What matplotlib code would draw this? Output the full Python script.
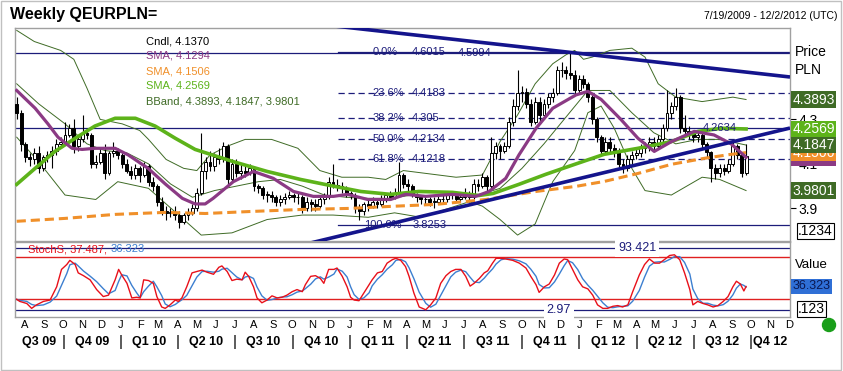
import numpy as np
import pandas as pd
import matplotlib
matplotlib.use("Agg")
import matplotlib.pyplot as plt
import matplotlib.dates as mdates
from matplotlib import transforms
from matplotlib.patches import Circle, Rectangle

plt.rcParams['font.family'] = ['Liberation Sans', 'DejaVu Sans']

# ---------------- data ----------------
start_date = "2009-07-19"
end_date = "2012-12-02"
first_open = 4.37
closes = [4.33, 4.19, 4.13, 4.12, 4.15, 4.08, 4.13, 4.14, 4.16, 4.19,
          4.20, 4.23, 4.26, 4.18, 4.21, 4.24, 4.23, 4.10, 4.11, 4.15,
          4.06, 4.15, 4.16, 4.14, 4.10, 4.07, 4.05, 4.08, 4.05, 4.09,
          4.02, 4.00, 3.93, 3.89, 3.88, 3.88, 3.87, 3.84, 3.87, 3.88,
          3.90, 3.97, 4.07, 4.11, 4.09, 4.13, 4.12, 4.18, 4.03, 4.10,
          4.06, 4.07, 4.06, 4.08, 4.00, 3.99, 3.96, 3.96, 3.95, 3.93,
          3.94, 3.95, 3.96, 3.95, 3.95, 3.90, 3.93, 3.92, 3.91, 3.94,
          3.95, 4.02, 4.00, 4.00, 3.99, 3.97, 3.96, 3.90, 3.89, 3.92,
          3.91, 3.93, 3.92, 3.94, 3.96, 3.95, 3.97, 4.05, 4.01, 4.00,
          3.96, 3.95, 3.94, 3.94, 3.93, 3.93, 3.94, 3.94, 3.96, 3.96,
          3.94, 3.95, 3.97, 3.95, 4.01, 4.00, 4.04, 4.00, 4.15, 4.18,
          4.16, 4.18, 4.29, 4.36, 4.42, 4.425, 4.37, 4.29, 4.38, 4.32,
          4.37, 4.40, 4.42, 4.52, 4.52, 4.51, 4.50, 4.43, 4.48, 4.46,
          4.40, 4.30, 4.22, 4.16, 4.20, 4.17, 4.16, 4.10, 4.08, 4.12,
          4.14, 4.15, 4.17, 4.18, 4.20, 4.18, 4.21, 4.26, 4.33, 4.36,
          4.40, 4.26, 4.25, 4.24, 4.22, 4.23, 4.19, 4.155, 4.08, 4.06,
          4.08, 4.07, 4.10, 4.18, 4.14, 4.06, 4.137]
highs = [4.40, 4.34, 4.20, 4.15, 4.17, 4.18, 4.14, 4.16, 4.18, 4.21,
         4.22, 4.29, 4.28, 4.30, 4.23, 4.32, 4.26, 4.24, 4.14, 4.17,
         4.19, 4.16, 4.20, 4.17, 4.15, 4.12, 4.09, 4.10, 4.09, 4.11,
         4.10, 4.04, 4.01, 3.95, 3.91, 3.90, 3.91, 3.89, 3.88, 3.90,
         3.92, 3.99, 4.24, 4.13, 4.16, 4.15, 4.17, 4.20, 4.19, 4.12,
         4.12, 4.10, 4.09, 4.10, 4.09, 4.01, 4.00, 3.98, 3.98, 3.96,
         3.96, 3.97, 3.98, 3.97, 3.97, 3.96, 3.95, 3.94, 3.94, 3.95,
         3.97, 4.04, 4.10, 4.03, 4.02, 4.00, 3.98, 3.97, 3.92, 3.93,
         3.94, 3.95, 3.94, 3.96, 3.97, 3.98, 3.99, 4.11, 4.06, 4.03,
         4.01, 3.97, 3.96, 3.96, 3.95, 3.95, 3.96, 3.96, 3.97, 3.98,
         3.97, 3.97, 3.99, 3.98, 4.03, 4.03, 4.06, 4.05, 4.22, 4.20,
         4.19, 4.20, 4.31, 4.39, 4.52, 4.45, 4.44, 4.39, 4.40, 4.40,
         4.39, 4.42, 4.44, 4.54, 4.56, 4.54, 4.60, 4.52, 4.50, 4.50,
         4.47, 4.41, 4.31, 4.23, 4.22, 4.22, 4.19, 4.17, 4.12, 4.14,
         4.16, 4.17, 4.19, 4.20, 4.22, 4.22, 4.23, 4.28, 4.43, 4.38,
         4.44, 4.41, 4.32, 4.27, 4.25, 4.25, 4.25, 4.20, 4.16, 4.10,
         4.10, 4.10, 4.12, 4.20, 4.19, 4.15, 4.19]
lows = [4.30, 4.16, 4.11, 4.09, 4.10, 4.06, 4.07, 4.11, 4.08, 4.14,
        4.17, 4.19, 4.22, 4.15, 4.16, 4.20, 4.21, 4.08, 4.08, 4.10,
        4.03, 4.05, 4.13, 4.12, 4.08, 4.06, 4.03, 4.03, 4.02, 4.04,
        4.00, 3.98, 3.91, 3.87, 3.85, 3.86, 3.85, 3.81, 3.83, 3.85,
        3.87, 3.89, 3.96, 4.03, 4.07, 4.07, 4.10, 4.11, 4.01, 4.02,
        4.04, 4.03, 4.04, 4.05, 3.98, 3.97, 3.94, 3.93, 3.93, 3.91,
        3.91, 3.92, 3.94, 3.93, 3.92, 3.88, 3.89, 3.89, 3.89, 3.90,
        3.92, 3.94, 3.99, 3.98, 3.97, 3.95, 3.94, 3.88, 3.85, 3.87,
        3.89, 3.90, 3.90, 3.91, 3.93, 3.94, 3.94, 3.96, 3.99, 3.98,
        3.95, 3.93, 3.92, 3.92, 3.91, 3.90, 3.92, 3.92, 3.93, 3.94,
        3.93, 3.93, 3.94, 3.93, 3.94, 3.98, 3.99, 3.98, 3.99, 4.12,
        4.12, 4.15, 4.17, 4.27, 4.34, 4.38, 4.35, 4.27, 4.28, 4.28,
        4.30, 4.35, 4.38, 4.41, 4.49, 4.48, 4.48, 4.41, 4.42, 4.44,
        4.38, 4.28, 4.20, 4.14, 4.15, 4.15, 4.13, 4.08, 4.06, 4.07,
        4.10, 4.12, 4.13, 4.15, 4.16, 4.16, 4.17, 4.19, 4.25, 4.30,
        4.34, 4.24, 4.22, 4.21, 4.20, 4.20, 4.17, 4.13, 4.02, 4.03,
        4.04, 4.05, 4.06, 4.09, 4.12, 4.04, 4.05]

# indicator lines (week index, value)
sma_purple_w = [0, 4.2, 7.1, 9.4, 12.6, 14.9, 17.8, 22.4, 25.4, 29.9, 33.8, 37.7, 40.6, 42.9,
                44.7, 49.3, 53.9, 58.4, 63.0, 67.5, 72.1, 75.3, 79.9, 85.1, 88.5, 93.1, 99.2,
                104.5, 107.5, 111.3, 114.3, 118.2, 122.0, 127.3, 130.0, 133.0, 137.5, 141.4,
                145.1, 149.0, 154.2, 158.7, 162.6, 166]
sma_purple_v = [4.43, 4.35, 4.28, 4.22, 4.17, 4.165, 4.17, 4.17, 4.14, 4.08, 4.01, 3.945, 3.92, 3.92,
                3.945, 4.02, 4.066, 4.035, 3.976, 3.954, 3.954, 3.963, 3.94, 3.94, 3.963, 3.954, 3.963,
                3.954, 3.976, 4.035, 4.14, 4.26, 4.35, 4.41, 4.426, 4.39, 4.30, 4.215,
                4.156, 4.20, 4.246, 4.23, 4.19, 4.1294]
sma_green_w = [0, 4.2, 8.7, 13.3, 17.8, 22.4, 27.0, 31.5, 36.1, 40.6, 49.3, 57.0, 64.6, 72.1,
               78.3, 85.1, 91.5, 99.2, 105.2, 108.4, 114.3, 120.4, 127.3, 133.7, 141.4, 149.0,
               155.1, 160.4, 166]
sma_green_v = [4.008, 4.08, 4.156, 4.215, 4.27, 4.305, 4.305, 4.27, 4.215, 4.165, 4.11, 4.066, 4.03, 4.0,
               3.976, 3.963, 3.976, 3.972, 3.958, 3.967, 4.008, 4.053, 4.10, 4.143, 4.17, 4.20,
               4.246, 4.26, 4.2569]
sma_orange_w = [0, 11, 22.4, 33.8, 42.9, 53.2, 64.6, 75.9, 85.1, 95.4, 106.8, 118.2, 127.3, 133.7,
                141.4, 149.0, 156.5, 162.6, 166]
sma_orange_v = [3.842, 3.855, 3.873, 3.882, 3.877, 3.886, 3.895, 3.90, 3.909, 3.918, 3.94, 3.976,
                3.999, 4.021, 4.057, 4.098, 4.125, 4.143, 4.1506]
bb_up_w = [0, 4, 10, 13, 16, 19, 24, 28, 30, 34, 38, 41, 44, 48, 52, 58, 64, 69, 74, 80, 84, 88, 92,
           96, 100, 106, 110, 114, 118, 122, 125, 127, 129, 131, 135, 140, 143, 146, 150, 156, 163, 166]
bb_up_v = [4.70, 4.65, 4.61, 4.57, 4.44, 4.30, 4.28, 4.25, 4.21, 4.12, 4.08, 4.07, 4.14, 4.18, 4.21,
           4.21, 4.17, 4.07, 4.04, 4.04, 4.03, 4.07, 4.06, 4.05, 4.04, 4.05, 4.20, 4.32, 4.46, 4.55,
           4.59, 4.61, 4.57, 4.58, 4.61, 4.62, 4.58, 4.46, 4.40, 4.38, 4.40, 4.3893]
bb_mid_w = [0, 5, 11, 16, 20, 25, 30, 35, 40, 45, 50, 55, 60, 65, 70, 75, 80, 85, 90, 95, 100, 105,
            110, 115, 120, 125, 130, 135, 140, 145, 150, 155, 160, 166]
bb_mid_v = [4.46, 4.37, 4.28, 4.19, 4.16, 4.15, 4.10, 4.01, 3.95, 3.98, 4.00, 4.02, 4.03, 4.00, 3.96,
            3.95, 3.945, 3.945, 3.96, 3.955, 3.96, 3.96, 3.99, 4.08, 4.19, 4.31, 4.43, 4.43, 4.33,
            4.24, 4.19, 4.21, 4.21, 4.1847]
bb_low_w = [0, 5, 11, 18, 23, 30, 38, 42, 49, 57, 65, 72, 80, 86, 92, 103, 106, 110, 114, 118, 122,
            127, 130, 133, 136, 140, 143, 149, 156, 160, 166]
bb_low_v = [4.22, 4.11, 3.96, 3.94, 4.02, 3.99, 3.85, 3.78, 3.79, 3.85, 3.87, 3.87, 3.86, 3.88, 3.86,
            3.93, 3.91, 3.85, 3.78, 3.83, 4.02, 4.16, 4.33, 4.36, 4.26, 4.08, 3.98, 3.96, 4.04, 4.03,
            3.9801]

# trendlines (week, price)
trend_upper = [(60, 4.747), (176, 4.4905)]
trend_lower = [(60, 3.712), (176, 4.261)]
hlines_full = [4.5994, 4.2634]
fib_pct = ["0.0%", "23.6%", "38.2%", "50.0%", "61.8%", "100.0%"]
fib_val = [4.6015, 4.4183, 4.305, 4.2134, 4.1218, 3.8253]
fib_start_week = 73.1

# stochastics %K (week, value)
stoch_w = [0, 0.7, 2.3, 3.4, 4.5, 6.1, 7.6, 9.1, 10.2, 11.4, 12.1, 13.3, 14.0, 15.2, 16.7, 18.2,
           19.7, 20.9, 22.4, 23.2, 23.9, 25.1, 26.2, 27.3, 28.1, 28.9, 30.0, 31.1, 31.9, 33.0,
           33.8, 34.9, 36.1, 36.8, 37.6, 38.7, 39.9, 41.0, 42.2, 43.3, 44.8, 46.0, 46.7, 47.9,
           49.0, 50.1, 51.3, 52.0, 52.8, 53.9, 54.7, 55.8, 57.0, 58.1, 59.3, 60.4, 61.5, 62.7,
           63.8, 65.0, 65.7, 66.9, 68.0, 69.1, 69.9, 71.0, 72.2, 72.9, 74.1, 75.2, 76.0, 76.8,
           77.9, 79.0, 80.2, 80.9, 82.1, 83.2, 84.3, 85.5, 86.3, 87.4, 88.5, 89.3, 90.4, 91.6,
           93.1, 94.2, 95.4, 96.5, 97.7, 98.8, 99.9, 101.1, 102.2, 103.2, 104.1, 105.3, 106.4,
           107.2, 108.3, 109.1, 110.2, 111.3, 112.9, 114.4, 115.9, 117.0, 118.2, 118.9, 120.1,
           121.2, 122.4, 123.5, 124.6, 125.4, 126.5, 127.7, 128.8, 130.0, 131.1, 132.2, 133.4,
           134.5, 135.7, 136.8, 137.9, 139.1, 140.2, 141.7, 142.9, 144.0, 145.2, 146.3, 147.4,
           148.6, 149.7, 150.9, 152.0, 153.2, 153.9, 155.0, 156.2, 157.3, 158.5, 159.6, 160.8,
           161.9, 163.0, 163.8, 164.7, 165.5, 166]
stoch_k = [19, 16, 13, 6, 11, 16, 18, 37, 62, 69, 75, 69, 57, 53, 47, 33, 23, 25, 47, 62, 54, 42,
           21, 22, 21, 47, 46, 42, 23, 8, 6, 11, 18, 16, 21, 37, 57, 59, 61, 58, 55, 65, 67, 59, 46,
           48, 47, 58, 52, 37, 21, 14, 18, 24, 21, 22, 25, 30, 33, 30, 40, 52, 53, 49, 42, 62, 62,
           64, 52, 37, 22, 18, 17, 28, 40, 47, 57, 59, 71, 76, 78, 75, 66, 52, 28, 8,
           4, 11, 21, 42, 53, 59, 62, 62, 52, 38, 42, 49, 57, 60, 71, 78, 78, 77, 75, 71, 64, 52,
           40, 29, 37, 41, 54, 71, 77, 76, 62, 47, 37, 34, 25, 11, 6, 6, 9, 10, 8, 11, 30, 54, 69,
           77, 71, 71, 76, 82, 83, 76, 57, 33, 11, 16, 13, 11, 8, 10, 16, 23, 37, 45, 41, 31, 37.5]
stoch_hi, stoch_lo = 93.421, 2.97

legend_lines = [("Cndl, 4.1370", "#000000"), ("SMA, 4.1294", "#8b3a84"),
                ("SMA, 4.1506", "#f0902a"), ("SMA, 4.2569", "#5db31a"),
                ("BBand, 4.3893, 4.1847, 3.9801", "#3f6b26")]
value_boxes = [(4.1294, "#8b3a84"), (4.1506, "#f0902a"), (4.1847, "#3f6b26"),
               (4.2569, "#5db31a"), (4.3893, "#3f6b26"), (3.9801, "#3f6b26")]
price_ticks = [3.9, 4.0, 4.1, 4.2, 4.3]
price_tick_labels = ["3.9", "", "4.1", "", "4.3"]

# ---------------- figure ----------------
W, H = 843, 371
fig = plt.figure(figsize=(W / 100, H / 100), dpi=100)
fig.patch.set_facecolor("white")

def fr(x0, y0, x1, y1):
    return [x0 / W, 1 - y1 / H, (x1 - x0) / W, (y1 - y0) / H]

ax = fig.add_axes(fr(14.5, 28, 790, 241))
axs = fig.add_axes(fr(14.5, 241.5, 790, 317))
ov = fig.add_axes([0, 0, 1, 1], zorder=20)
ov.set_xlim(0, W); ov.set_ylim(H, 0); ov.axis("off"); ov.patch.set_alpha(0)

x0 = mdates.date2num(pd.Timestamp(start_date))
def wk(w):
    return x0 + 7.0 * np.asarray(w, dtype=float)
xmin, xmax = wk(-0.5), mdates.date2num(pd.Timestamp(end_date))

for a in (ax, axs):
    a.set_xlim(xmin, xmax)
    a.set_xticks([])
    for s in a.spines.values():
        s.set_color("#a0a0a0"); s.set_linewidth(1)
ax.set_ylim(3.7534, 4.7107)
axs.set_ylim(-6.4, 102.1)

navy = "#1c1c7a"
fibfs = 8
# horizontal lines
for v in hlines_full:
    ax.axhline(v, color=navy, lw=0.9, zorder=1.5)
for i, (p, v) in enumerate(zip(fib_pct, fib_val)):
    ls = "-" if i in (0, len(fib_val) - 1) else (0, (5, 3))
    ax.plot([wk(fib_start_week), xmax], [v, v], color=navy, lw=0.9, ls=ls, zorder=1.5)
    ax.text(wk(79.0 if p == "100.0%" else 81.0), v, p, color=navy, fontsize=fibfs,
            va="center", ha="left", zorder=7)
    ax.text(wk(90.0), v, f"{v:.4f}".rstrip("0") if p == "38.2%" else f"{v:.4f}",
            color=navy, fontsize=fibfs, va="center", ha="left", zorder=7)
ax.text(wk(100.4), hlines_full[0], f"{hlines_full[0]:.4f}", color=navy, fontsize=fibfs,
        va="center", ha="left", zorder=7)
ax.text(wk(156.2), hlines_full[1], f"{hlines_full[1]:.4f}", color=navy, fontsize=fibfs,
        va="center", ha="left", zorder=7)

# bollinger bands
bbc = "#3f6b26"
for ww, vv in ((bb_up_w, bb_up_v), (bb_mid_w, bb_mid_v), (bb_low_w, bb_low_v)):
    ax.plot(wk(ww), vv, color=bbc, lw=0.7, zorder=2)

# candles
c = np.array(closes); o = np.array([first_open] + closes[:-1])
hi = np.array(highs); lo = np.array(lows)
xs = wk(np.arange(len(c)))
ax.vlines(xs, lo, hi, color="black", lw=0.8, zorder=3)
up = c >= o
ax.bar(xs, np.maximum(np.abs(c - o), 0.003), bottom=np.minimum(o, c), width=4.6,
       color=np.where(up, "white", "black"), edgecolor="black", linewidth=0.7, zorder=4)

# moving averages
ax.plot(wk(sma_orange_w), sma_orange_v, color="#f0902a", lw=2.2, dashes=(3, 1.6), zorder=5)
ax.plot(wk(sma_green_w), sma_green_v, color="#5db31a", lw=2.6, zorder=5)
ax.plot(wk(sma_purple_w), sma_purple_v, color="#8b3a84", lw=2.3, zorder=5)

# trendlines
for tl in (trend_upper, trend_lower):
    ax.plot(wk([p[0] for p in tl]), [p[1] for p in tl], color="#14148c", lw=2.6,
            solid_capstyle="butt", zorder=6)

# right axis of price panel
ax.yaxis.tick_right()
ax.set_yticks(price_ticks)
ax.set_yticklabels(price_tick_labels)
ax.tick_params(axis="y", direction="out", length=4, width=0.8, pad=2, labelsize=10,
               colors="black")
bl = transforms.blended_transform_factory(ov.transData, ax.transData)
for k, (v, col) in enumerate(value_boxes):
    ax.text(792.5, v, f"{v:.4f}", transform=bl, ha="left", va="center", fontsize=10,
            color="white", zorder=10 + k, clip_on=False,
            bbox=dict(boxstyle="square,pad=0.1", fc=col, ec="none"))

# stochastic panel
axs.axhline(80, color="#e02020", lw=1, zorder=1)
axs.axhline(20, color="#e02020", lw=1, zorder=1)
axs.axhline(stoch_hi, color=navy, lw=0.9, zorder=1)
axs.axhline(stoch_lo, color=navy, lw=0.9, zorder=1)
sk = pd.Series(stoch_k, dtype=float)
sd = sk.rolling(3, min_periods=1).mean()
axs.plot(wk(stoch_w), sd, color="#3c7fd0", lw=1, zorder=3)
axs.plot(wk(stoch_w), sk, color="#e8101a", lw=1, zorder=4)
axs.set_yticks([])
axs.text(wk(141.2), stoch_hi, f"{stoch_hi}", color=navy, fontsize=9, ha="center",
         va="center", zorder=6, bbox=dict(boxstyle="square,pad=0.25", fc="white", ec="none"))
axs.text(wk(123.4), stoch_lo, f"{stoch_lo}", color=navy, fontsize=9, ha="center",
         va="center", zorder=6, bbox=dict(boxstyle="square,pad=0.25", fc="white", ec="none"))

# ---------------- overlay texts ----------------
ov.text(10, 14, "Weekly QEURPLN=", fontsize=11.5, fontweight="bold", va="center", ha="left")
ov.text(838, 16, "7/19/2009 - 12/2/2012 (UTC)", fontsize=7.5, va="center", ha="right")
for k, (t, col) in enumerate(legend_lines):
    ov.text(146, 41 + 15 * k, t, fontsize=8, color=col, va="center", ha="left")
ov.text(795, 52, "Price", fontsize=10, va="center", ha="left")
ov.text(795, 70, "PLN", fontsize=10, va="center", ha="left")
ov.text(798, 231, ".1234", fontsize=10, va="center", ha="left",
        bbox=dict(boxstyle="square,pad=0.1", fc="white", ec="black", lw=0.8))
ov.text(28, 249, "StochS, 37.487,", fontsize=8, color="#e8101a", va="center", ha="left")
ov.text(111, 249, "36.323", fontsize=8, color="#3c7fd0", va="center", ha="left")
ov.text(795, 265, "Value", fontsize=9.5, va="center", ha="left")
ov.text(792.5, 286, "36.323", fontsize=9, color="#0a1850", va="center", ha="left",
        bbox=dict(boxstyle="square,pad=0.12", fc="#2f6fd6", ec="none"))
ov.text(798, 309, ".123", fontsize=10, va="center", ha="left",
        bbox=dict(boxstyle="square,pad=0.1", fc="white", ec="black", lw=0.8))
ov.add_patch(Circle((829, 325), 6.5, color="#1a9e1a"))
ov.add_patch(Rectangle((0.5, 0.5), W - 3, H - 2, fill=False, ec="#c0c0c0", lw=1))

# time axis labels
bt = transforms.blended_transform_factory(axs.transData, ov.transData)
months = pd.date_range("2009-08-01", "2012-12-01", freq="MS")
for m in months:
    axs.text(mdates.date2num(m), 325, m.strftime("%b")[0], transform=bt, fontsize=8,
             ha="center", va="center", clip_on=False)
qstarts = pd.date_range("2009-07-01", "2012-10-01", freq="QS")
for q in qstarts:
    qa = max(mdates.date2num(q), xmin)
    qb = min(mdates.date2num(q + pd.offsets.QuarterBegin(startingMonth=1)), xmax)
    lab = f"Q{q.quarter} {q.year % 100:02d}"
    axs.text((qa + qb) / 2, 342, lab, transform=bt, fontsize=9, fontweight="bold",
             ha="center", va="center", clip_on=False)
    if mdates.date2num(q) > xmin:
        axs.text(mdates.date2num(q), 342, "|", transform=bt, fontsize=11,
                 ha="center", va="center", clip_on=False)

fig.savefig("out.png", dpi=100)
